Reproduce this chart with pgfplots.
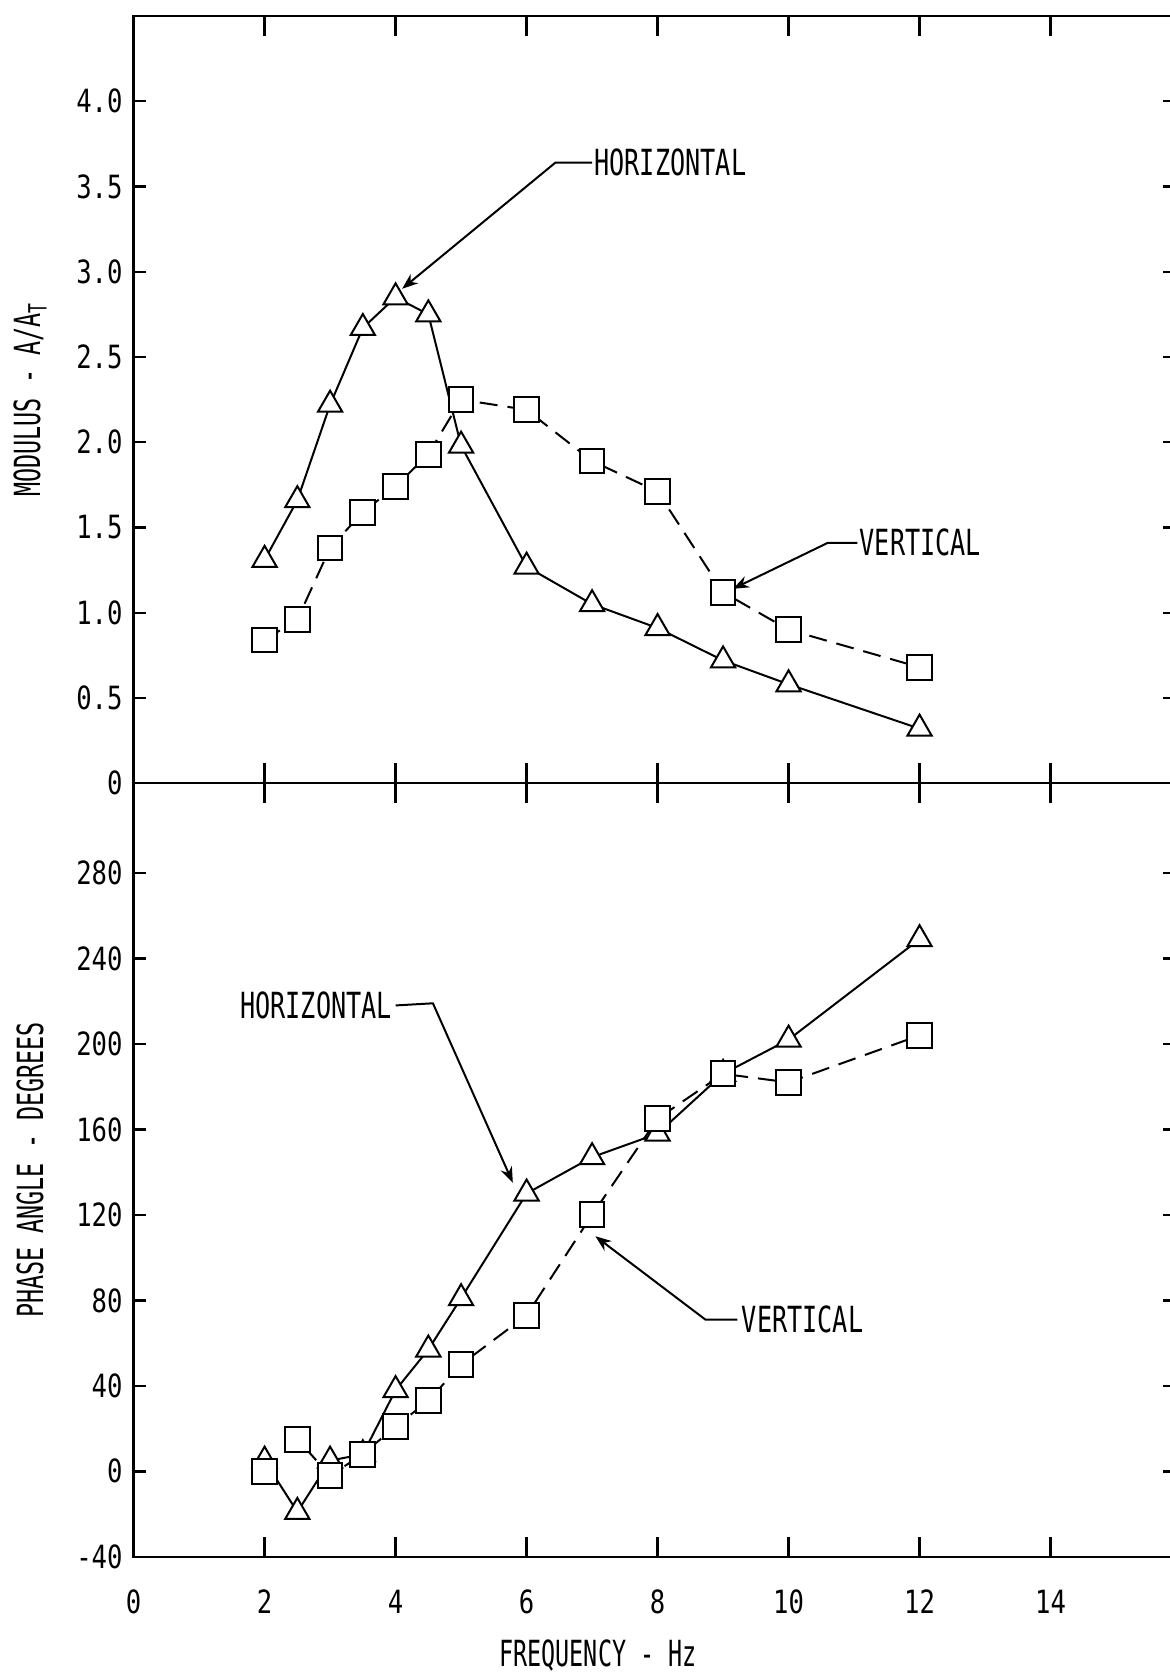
\documentclass[border=0pt]{standalone}
\usepackage{pgfplots}
\pgfplotsset{compat=1.18}
\usepackage{fontspec}
\setmainfont{DejaVu Sans Mono}[FakeStretch=0.8]
\newfontfamily\annfamily{DejaVu Sans Mono}[FakeStretch=0.70]
\newfontfamily\labfamily{DejaVu Sans Mono}[FakeStretch=0.65]
\newcommand\annfont{\annfamily\fontsize{18pt}{21pt}\selectfont}
\newcommand\labfont{\labfamily\fontsize{18pt}{21pt}\selectfont}
\usetikzlibrary{arrows.meta}
\pgfplotstableread{
x   hmod  vmod
2   1.31  0.84
2.5 1.66  0.96
3   2.22  1.38
3.5 2.67  1.59
4   2.85  1.74
4.5 2.75  1.93
5   1.98  2.25
6   1.27  2.19
7   1.05  1.89
8   0.91  1.71
9   0.72  1.12
10  0.58  0.90
12  0.32  0.68
}\modtable
\pgfplotstableread{
x   hph  vph
2   5    0
2.5 -19  15
3   5    -2
3.5 8    8
4   38   21
4.5 57   33
5   81   50
6   130  73
7   147  120
8   158  165
9   186  186
10  202  182
12  249  204
}\phtable
\begin{document}
\fontsize{16pt}{19pt}\selectfont
\begin{tikzpicture}
\path[use as bounding box] (0,0) rectangle (585pt,838pt);
\pgfplotsset{
  common/.style={
    scale only axis, width=520.7pt, xmin=0, xmax=15.9,
    axis line style={line width=1.2pt},
    tick style={line width=1.2pt, black},
    tick align=inside,
    major tick length=8pt,
    xtick style={/pgfplots/major tick length=10pt},
    ytick style={/pgfplots/major tick length=6pt},
    /pgf/number format/assume math mode=true,
    tick label style={font=\fontsize{16pt}{19pt}\selectfont},
    clip=false,
    every axis y label/.style={at={(axis description cs:-0.0995,0.5)},rotate=90,anchor=center,font=\labfont},
  },
  hline/.style={black, solid, line width=1pt, no marks},
  vline/.style={black, line width=1pt, dash pattern=on 9pt off 5pt, no marks},
  hmark/.style={black, only marks, mark=triangle*, mark size=7pt, mark options={solid, fill=white, line width=1pt}},
  vmark/.style={black, only marks, mark=square*, mark size=6.2pt, mark options={solid, fill=white, line width=1pt}},
}
% ---------------- top panel: modulus ----------------
\begin{axis}[common, at={(66.8pt,446.4pt)}, anchor=south west, height=383.6pt,
  ymin=0, ymax=4.5,
  xtick={2,4,6,8,10,12,14}, xticklabels={},
  ytick={0,0.5,1,1.5,2,2.5,3,3.5,4},
  yticklabels={0,0.5,1.0,1.5,2.0,2.5,3.0,3.5,4.0},
  ylabel={MODULUS - A/A\textsubscript{T}},
]
\addplot[hline] table[x=x, y=hmod] {\modtable};
\addplot[vline] table[x=x, y=vmod] {\modtable};
\addplot[hmark] table[x=x, y=hmod] {\modtable};
\addplot[vmark] table[x=x, y=vmod] {\modtable};
\draw[line width=1pt, -{Stealth[length=8pt,width=6pt]}] (axis cs:7.0,3.64) -- (axis cs:6.44,3.64) -- (axis cs:4.1,2.9);
\node[anchor=west, inner sep=1pt, font=\annfont] at (axis cs:7.0,3.64) {HORIZONTAL};
\draw[line width=1pt, -{Stealth[length=8pt,width=6pt]}] (axis cs:11.05,1.41) -- (axis cs:10.6,1.41) -- (axis cs:9.15,1.14);
\node[anchor=west, inner sep=1pt, font=\annfont] at (axis cs:11.05,1.41) {VERTICAL};
\end{axis}
% ---------------- bottom panel: phase ----------------
\begin{axis}[common, at={(66.8pt,59.6pt)}, anchor=south west, height=386.8pt,
  ymin=-40, ymax=322,
  xtick={0,2,4,6,8,10,12,14},
  ytick={-40,0,40,80,120,160,200,240,280},
  xticklabel style={yshift=-11pt},
  ylabel={PHASE ANGLE - DEGREES},
  xlabel={FREQUENCY - Hz},
  every axis x label/.style={at={(axis description cs:0.446,0)},yshift=-49.6pt,anchor=center,font=\labfont},
]
\addplot[hline] table[x=x, y=hph] {\phtable};
\addplot[vline] table[x=x, y=vph] {\phtable};
\addplot[hmark] table[x=x, y=hph] {\phtable};
\addplot[vmark] table[x=x, y=vph] {\phtable};
\node[anchor=east, inner sep=1pt, font=\annfont] at (axis cs:3.98,218) {HORIZONTAL};
\draw[line width=1pt, -{Stealth[length=8pt,width=6pt]}] (axis cs:4.0,218) -- (axis cs:4.57,219) -- (axis cs:5.79,135);
\node[anchor=west, inner sep=1pt, font=\annfont] at (axis cs:9.25,71) {VERTICAL};
\draw[line width=1pt, -{Stealth[length=8pt,width=6pt]}] (axis cs:9.22,71) -- (axis cs:8.73,71) -- (axis cs:7.05,110);
\end{axis}
\end{tikzpicture}
\end{document}
